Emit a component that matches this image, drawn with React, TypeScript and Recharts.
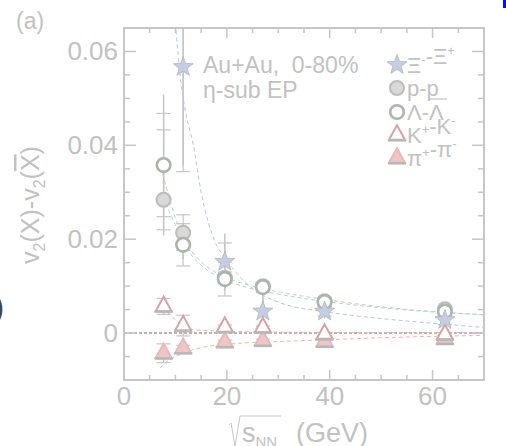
import { ComposedChart, Line, Scatter, XAxis, YAxis, ErrorBar, ReferenceLine } from 'recharts'

// beam energies (GeV)
const energies = [7.7, 11.5, 19.6, 27, 39, 62.4]
const xiEnergies = [11.5, 19.6, 27, 39, 62.4]

// v2(X) - v2(anti-X), errors as [down, up]
const xiValues = [0.0567, 0.0152, 0.0046, 0.0046, 0.0028]
const xiStat = [[0.021, 0.0083], [0.006, 0.006], [0.004, 0.004], [0.0015, 0.0015], [0.0015, 0.0015]]
const xiSys = [[0.0223, 0.0083], [0.004, 0.004], [0.004, 0.004], [0.001, 0.001], [0.001, 0.001]]

const protonValues = [0.0284, 0.0214, 0.0118, 0.01, 0.0068, 0.0051]
const protonStat = [0.0015, 0.0012, 0.0008, 0.0006, 0.0005, 0.0005]
const protonSys = [[0.0064, 0.0149], 0.0038, 0.0012, 0.0008, 0.0006, 0.0006]

const lambdaValues = [0.0358, 0.0188, 0.0115, 0.0098, 0.0066, 0.0046]
const lambdaStat = [0.015, 0.003, 0.002, 0.001, 0.001, 0.001]
const lambdaSys = [0.011, 0.0045, 0.0036, 0.001, 0.001, 0.001]

const kaonValues = [0.0057, 0.0016, 0.0013, 0.0012, -0.0002, -0.0003]
const kaonStat = [0.0008, 0.0005, 0.0004, 0.0003, 0.0003, 0.0003]
const kaonSys = [0.0017, 0.0022, 0.0004, 0.0003, 0.0003, 0.0003]

const pionValues = [-0.0043, -0.0032, -0.0019, -0.0016, -0.0018, -0.0012]
const pionStat = [0.0006, 0.0004, 0.0003, 0.0003, 0.0003, 0.0003]
const pionSys = [0.002, 0.0006, 0.0004, 0.0003, 0.0003, 0.0003]

// dashed fit curves
const xiFitX = [10, 11, 12, 13.5, 15, 17.5, 20, 25, 30, 40, 50, 60, 70]
const xiFitY = [0.066, 0.054, 0.047, 0.04, 0.03, 0.02, 0.0155, 0.0095, 0.0066, 0.0044, 0.0031, 0.0021, 0.0012]
const lambdaFitX = [7.5, 10, 12.5, 15, 20, 25, 30, 40, 50, 60, 70]
const lambdaFitY = [0.034, 0.0245, 0.0185, 0.0152, 0.0118, 0.01, 0.0088, 0.007, 0.0056, 0.0046, 0.0039]
const protonFitY = [0.029, 0.023, 0.0175, 0.0145, 0.0112, 0.0094, 0.0083, 0.0066, 0.0054, 0.0045, 0.0039]
const kaonFitX = [7.7, 9, 10, 11.5, 13, 15, 20, 30, 50, 70]
const kaonFitY = [0.0058, 0.0038, 0.0028, 0.0016, 0.0009, 0.0006, 0.0004, 0.0002, 0.0001, 0.0001]
const pionFitX = [7, 8, 9, 10, 11.5, 13, 15, 20, 25, 30, 40, 50, 60, 70]
const pionFitY = [-0.0075, -0.0064, -0.0055, -0.005, -0.0043, -0.0037, -0.0031, -0.0024, -0.002, -0.0018, -0.0014, -0.001, -0.0007, -0.0005]

const X_DOMAIN = [0, 70]
const Y_DOMAIN = [-0.01, 0.065]
const xTicks = [0, 5, 10, 15, 20, 25, 30, 35, 40, 45, 50, 55, 60, 65, 70]
const xMajor = [0, 20, 40, 60]
const yTicks = [-0.005, 0, 0.005, 0.01, 0.015, 0.02, 0.025, 0.03, 0.035, 0.04, 0.045, 0.05, 0.055, 0.06]
const yMajor = [0, 0.02, 0.04, 0.06]

const FONT = '"Liberation Sans", Arial, sans-serif'
const TEXT = '#c2c2c2'
const FRAME = '#c6c6c6'
const ERR = '#c6c6c6'

// plot box (chart margins + axis sizes), used for the frame and the mirrored ticks
const PLOT_LEFT = 124
const PLOT_TOP = 28
const PLOT_W = 360
const PLOT_H = 352

const toPoints = (xs: number[], ys: number[], stat?: any[], sys?: any[]) =>
  xs.map((x, i) => ({ x, y: ys[i], stat: stat ? stat[i] : 0, sys: sys ? sys[i] : 0 }))

const xiData = toPoints(xiEnergies, xiValues, xiStat, xiSys)
const protonData = toPoints(energies, protonValues, protonStat, protonSys)
const lambdaData = toPoints(energies, lambdaValues, lambdaStat, lambdaSys)
const kaonData = toPoints(energies, kaonValues, kaonStat, kaonSys)
const pionData = toPoints(energies, pionValues, pionStat, pionSys)

const xiFit = toPoints(xiFitX, xiFitY)
const lambdaFit = toPoints(lambdaFitX, lambdaFitY)
const protonFit = toPoints(lambdaFitX, protonFitY)
const kaonFit = toPoints(kaonFitX, kaonFitY)
const pionFit = toPoints(pionFitX, pionFitY)

const isMajor = (v: number, majors: number[]) => majors.some((m) => Math.abs(m - v) < 1e-9)

function starPath(cx: number, cy: number, R: number, r: number) {
  let d = ''
  for (let i = 0; i < 10; i++) {
    const rad = i % 2 === 0 ? R : r
    const a = -Math.PI / 2 + (i * Math.PI) / 5
    d += (i ? 'L' : 'M') + (cx + rad * Math.cos(a)).toFixed(2) + ' ' + (cy + rad * Math.sin(a)).toFixed(2)
  }
  return d + 'Z'
}

const Star = ({ cx, cy }: any) => (
  <path d={starPath(cx, cy, 10.5, 4.3)} fill="#c5cde0" stroke="#aeb6c8" strokeWidth={0.8} />
)
const FilledCircle = ({ cx, cy }: any) => (
  <circle cx={cx} cy={cy} r={7} fill="#d9d9d9" stroke="#bcbcbc" strokeWidth={2} />
)
const OpenCircle = ({ cx, cy }: any) => (
  <circle cx={cx} cy={cy} r={6.8} fill="#ffffff" stroke="#a9b6a9" strokeWidth={2.6} />
)
const Triangle = ({ cx, cy, filled }: any) => {
  const h = 14.5
  const w = 8
  const top = cy - (2 * h) / 3
  const base = cy + h / 3
  return (
    <g>
      <path
        d={`M${cx} ${top}L${cx - w} ${base}L${cx + w} ${base}Z`}
        fill={filled ? '#f1c5c5' : '#ffffff'}
        stroke={filled ? '#e4baba' : '#d7a3a3'}
        strokeWidth={2}
      />
      <line x1={cx - w - 1} x2={cx + w + 1} y1={base + 0.5} y2={base + 0.5} stroke="#b8b8b8" strokeWidth={2.5} />
    </g>
  )
}

// bottom axis tick: inward tick at bottom and top of the frame, label below
function XTick({ x, y, payload }: any) {
  const major = isMajor(payload.value, xMajor)
  const len = major ? 10 : 5
  return (
    <g>
      <line x1={x} x2={x} y1={y} y2={y - len} stroke={FRAME} strokeWidth={1.5} />
      <line x1={x} x2={x} y1={y - PLOT_H} y2={y - PLOT_H + len} stroke={FRAME} strokeWidth={1.5} />
      {major && (
        <text x={x} y={y + 25} textAnchor="middle" fontSize={26} fill={TEXT} fontFamily={FONT}>
          {payload.value}
        </text>
      )}
    </g>
  )
}

// left axis tick: inward tick at left and right of the frame, label left
function YTick({ x, y, payload }: any) {
  const major = isMajor(payload.value, yMajor)
  const len = major ? 12 : 6
  return (
    <g>
      <line x1={x} x2={x + len} y1={y} y2={y} stroke={FRAME} strokeWidth={1.5} />
      <line x1={x + PLOT_W} x2={x + PLOT_W - len} y1={y} y2={y} stroke={FRAME} strokeWidth={1.5} />
      {major && (
        <text x={x - 6} y={y + 9} textAnchor="end" fontSize={26} fill={TEXT} fontFamily={FONT}>
          {String(payload.value)}
        </text>
      )}
    </g>
  )
}

const fitLine = (data: any[], color: string, key: string) => (
  <Line
    key={key}
    data={data}
    dataKey="y"
    type="monotone"
    stroke={color}
    strokeWidth={1}
    strokeDasharray="4 3"
    dot={false}
    activeDot={false}
    isAnimationActive={false}
  />
)

const errorBars = [
  <ErrorBar key="stat" dataKey="stat" direction="y" width={0} stroke={ERR} strokeWidth={1.5} />,
  <ErrorBar key="sys" dataKey="sys" direction="y" width={7} stroke={ERR} strokeWidth={1.2} />,
]

const legendRows = [65, 88, 112, 135, 158]

function Overlay() {
  const lx = 397
  const tx = 407
  const sup = (s: string) => (
    <>
      <tspan dy={-9} fontSize={13}>{s}</tspan>
      <tspan dy={9}>{''}</tspan>
    </>
  )
  return (
    <svg
      width={506}
      height={446}
      style={{ position: 'absolute', left: 0, top: 0, pointerEvents: 'none' }}
      fontFamily={FONT}
    >
      {/* plot frame */}
      <rect x={PLOT_LEFT} y={PLOT_TOP} width={PLOT_W} height={PLOT_H} fill="none" stroke={FRAME} strokeWidth={1.8} />

      <text x={16} y={29} fontSize={23} fill={TEXT}>(a)</text>
      <text x={-7} y={318} fontSize={34} fill="#444">)</text>
      <rect x={503} y={0} width={3} height={8} fill="#0a0aff" />

      {/* y axis title */}
      <text transform="translate(39,205) rotate(-90)" textAnchor="middle" fontSize={25} fill={TEXT}>
        v<tspan dy={6} fontSize={16}>2</tspan>
        <tspan dy={-6}>(X)-v</tspan>
        <tspan dy={6} fontSize={16}>2</tspan>
        <tspan dy={-6}>(</tspan>
        <tspan textDecoration="overline">X</tspan>
        <tspan>)</tspan>
      </text>

      {/* x axis title */}
      <path d="M229 425 L231 423 L235 446 L240 416 L281 416" fill="none" stroke="#c8c8c8" strokeWidth={1} />
      <text x={242} y={442} fontSize={27} fill={TEXT}>
        s<tspan dy={5} fontSize={15}>NN</tspan>
      </text>
      <text x={296} y={442} fontSize={27} fill={TEXT}>(GeV)</text>

      {/* annotation */}
      <text x={203} y={73} fontSize={23} fill={TEXT} style={{ whiteSpace: 'pre' }}>Au+Au,  0-80%</text>
      <text x={203} y={98} fontSize={23} fill={TEXT}>η-sub EP</text>

      {/* legend */}
      <Star cx={lx} cy={legendRows[0]} />
      <text x={tx} y={legendRows[0] + 8} fontSize={22} fill={TEXT}>
        Ξ{sup('-')}-Ξ{sup('+')}
      </text>
      <FilledCircle cx={lx} cy={legendRows[1]} />
      <text x={tx} y={legendRows[1] + 8} fontSize={22} fill={TEXT}>p-p</text>
      <line x1={428} x2={447} y1={99} y2={99} stroke={TEXT} strokeWidth={1.2} />
      <OpenCircle cx={lx} cy={legendRows[2]} />
      <text x={tx} y={legendRows[2] + 8} fontSize={22} fill={TEXT}>Λ-Λ</text>
      <Triangle cx={lx} cy={legendRows[3]} />
      <text x={tx} y={legendRows[3] + 8} fontSize={22} fill={TEXT}>
        K{sup('+')}-K{sup('-')}
      </text>
      <Triangle cx={lx} cy={legendRows[4]} filled />
      <text x={tx} y={legendRows[4] + 8} fontSize={22} fill={TEXT}>
        π{sup('+')}-π{sup('-')}
      </text>
    </svg>
  )
}

export default function App() {
  return (
    <div style={{ position: 'absolute', left: 0, top: 0, width: 506, height: 446, background: '#fff' }}>
      <ComposedChart width={506} height={446} margin={{ top: PLOT_TOP, right: 22, bottom: 0, left: 0 }}>
        <XAxis
          type="number"
          dataKey="x"
          domain={X_DOMAIN}
          ticks={xTicks}
          interval={0}
          allowDataOverflow
          height={66}
          tickSize={0}
          tickMargin={0}
          tickLine={false}
          tick={<XTick />}
          axisLine={{ stroke: FRAME, strokeWidth: 1.8 }}
        />
        <YAxis
          type="number"
          dataKey="y"
          domain={Y_DOMAIN}
          ticks={yTicks}
          interval={0}
          allowDataOverflow
          width={PLOT_LEFT}
          tickSize={0}
          tickMargin={0}
          tickLine={false}
          tick={<YTick />}
          axisLine={{ stroke: FRAME, strokeWidth: 1.8 }}
        />
        <ReferenceLine y={Y_DOMAIN[1]} stroke={FRAME} strokeWidth={1.8} />
        <ReferenceLine x={X_DOMAIN[1]} stroke={FRAME} strokeWidth={1.8} />
        <ReferenceLine y={0} stroke="#a89a9a" strokeWidth={1.5} strokeDasharray="3 2" />
        {fitLine(protonFit, '#c5cbd6', 'pfit')}
        {fitLine(lambdaFit, '#b5dbb5', 'lfit')}
        {fitLine(xiFit, '#b9c3ea', 'xfit')}
        {fitLine(kaonFit, '#f2b3b3', 'kfit')}
        {fitLine(pionFit, '#f2b3b3', 'pifit')}
        <Scatter data={pionData} isAnimationActive={false} shape={(p: any) => <Triangle cx={p.cx} cy={p.cy} filled />}>
          {errorBars}
        </Scatter>
        <Scatter data={kaonData} isAnimationActive={false} shape={(p: any) => <Triangle cx={p.cx} cy={p.cy} />}>
          {errorBars}
        </Scatter>
        <Scatter data={protonData} isAnimationActive={false} shape={(p: any) => <FilledCircle cx={p.cx} cy={p.cy} />}>
          {errorBars}
        </Scatter>
        <Scatter data={lambdaData} isAnimationActive={false} shape={(p: any) => <OpenCircle cx={p.cx} cy={p.cy} />}>
          {errorBars}
        </Scatter>
        <Scatter data={xiData} isAnimationActive={false} shape={(p: any) => <Star cx={p.cx} cy={p.cy} />}>
          {errorBars}
        </Scatter>
      </ComposedChart>
      <Overlay />
    </div>
  )
}
